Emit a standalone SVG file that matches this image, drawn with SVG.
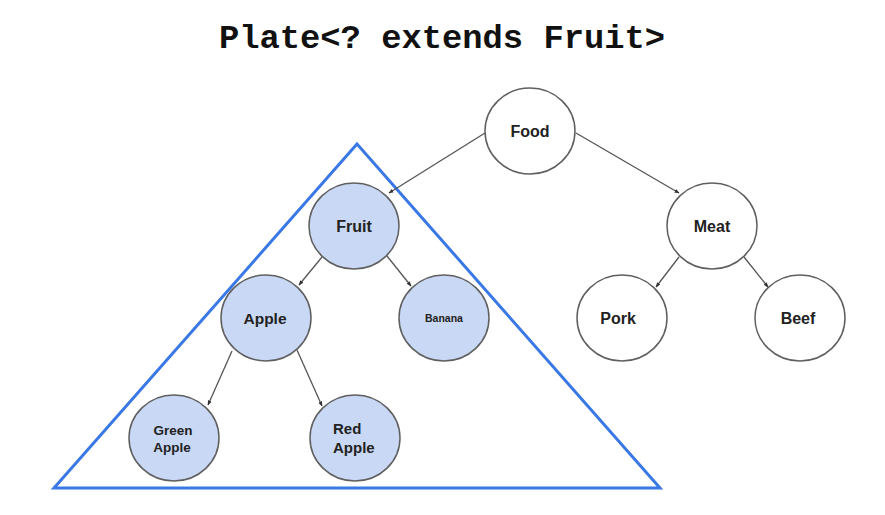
<svg xmlns="http://www.w3.org/2000/svg" width="885" height="515" viewBox="0 0 885 515">
<defs>
<style>
.n{stroke:#5f5f5f;stroke-width:1.5}
.w{fill:#ffffff}
.b{fill:#c9d8f4}
.t{font-family:"Liberation Sans",Arial,sans-serif;font-weight:bold;fill:#222;text-anchor:middle}
.e{stroke:#555;stroke-width:1.3;fill:none;marker-end:url(#ah)}
</style>
<marker id="ah" viewBox="0 0 10 10" refX="9" refY="5" markerWidth="5" markerHeight="5" orient="auto" markerUnits="userSpaceOnUse">
<path d="M0,1 L10,5 L0,9 z" fill="#333"/>
</marker>
</defs>
<rect width="885" height="515" fill="#ffffff"/>
<text x="442" y="48" font-family="'Liberation Mono','Courier New',monospace" font-weight="bold" font-size="33.8" text-anchor="middle" fill="#111">Plate&lt;? extends Fruit&gt;</text>
<polygon id="bound" points="357,144 54,488 660,488" fill="none" stroke="#3a78e6" stroke-width="3" stroke-linejoin="miter"/>
<g id="connectors">
<line class="e" x1="485" y1="133" x2="389" y2="193"/>
<line class="e" x1="576" y1="133" x2="679" y2="193"/>
<line class="e" x1="322" y1="257" x2="299" y2="285"/>
<line class="e" x1="387" y1="256" x2="411" y2="286"/>
<line class="e" x1="232" y1="351" x2="208" y2="405"/>
<line class="e" x1="297" y1="350" x2="322" y2="406"/>
<line class="e" x1="679" y1="257" x2="656" y2="287"/>
<line class="e" x1="744" y1="257" x2="768" y2="287"/>
</g>
<g id="food"><ellipse class="n w" cx="530" cy="131" rx="45" ry="43"/><text class="t" x="530" y="137" font-size="16">Food</text></g>
<g id="fruit"><ellipse class="n b" cx="354" cy="226" rx="45" ry="43"/><text class="t" x="354" y="232" font-size="16">Fruit</text></g>
<g id="meat"><ellipse class="n w" cx="712" cy="226" rx="45" ry="43"/><text class="t" x="712" y="232" font-size="16">Meat</text></g>
<g id="apple"><ellipse class="n b" cx="266" cy="318" rx="45" ry="43"/><text class="t" x="265" y="324" font-size="15.5">Apple</text></g>
<g id="banana"><ellipse class="n b" cx="444" cy="318" rx="45" ry="43"/><text class="t" x="444" y="322" font-size="10.5">Banana</text></g>
<g id="pork"><ellipse class="n w" cx="622" cy="318" rx="45" ry="43"/><text class="t" x="618" y="324" font-size="16">Pork</text></g>
<g id="beef"><ellipse class="n w" cx="800" cy="318" rx="45" ry="43"/><text class="t" x="798" y="324" font-size="16">Beef</text></g>
<g id="green-apple"><ellipse class="n b" cx="174" cy="438" rx="45" ry="43"/><text class="t" x="173" y="435" font-size="13.5">Green</text><text class="t" x="172" y="452" font-size="13.5">Apple</text></g>
<g id="red-apple"><ellipse class="n b" cx="355" cy="438" rx="45" ry="43"/><text class="t" x="333" y="434" font-size="15" style="text-anchor:start">Red</text><text class="t" x="333" y="453" font-size="15" style="text-anchor:start">Apple</text></g>
</svg>
